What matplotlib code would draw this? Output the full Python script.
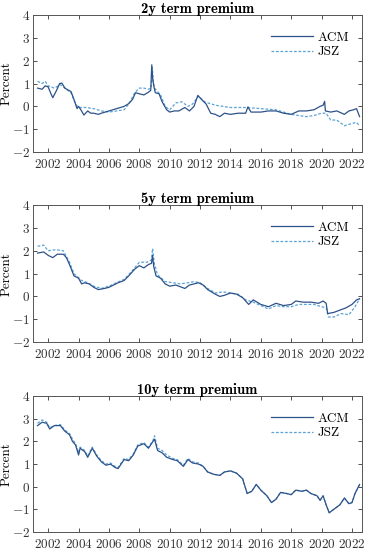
import matplotlib
matplotlib.use("Agg")
import matplotlib.pyplot as plt
import numpy as np

plt.rcParams['font.family'] = ['cmr10', 'DejaVu Serif']
plt.rcParams['mathtext.fontset'] = 'cm'
plt.rcParams['axes.formatter.use_mathtext'] = True
plt.rcParams['axes.unicode_minus'] = True

# ---------------- data ----------------
acm2_t = [2001.3, 2001.6, 2001.8, 2002.0, 2002.15, 2002.3, 2002.55, 2002.75, 2002.9, 2003.1, 2003.3, 2003.5,
          2003.7, 2003.9, 2004.0, 2004.15, 2004.35, 2004.6, 2004.8, 2005.0, 2005.3, 2005.5, 2006.0, 2006.5,
          2007.0, 2007.3, 2007.55, 2007.75, 2008.0, 2008.3, 2008.6, 2008.75, 2008.82, 2008.88, 2008.95,
          2009.05, 2009.3, 2009.5, 2009.8, 2010.0, 2010.3, 2010.6, 2011.0, 2011.3, 2011.6, 2011.85, 2012.1,
          2012.4, 2012.7, 2013.0, 2013.3, 2013.6, 2014.0, 2014.5, 2015.0, 2015.15, 2015.35, 2015.6, 2016.0,
          2016.5, 2017.0, 2017.5, 2018.0, 2018.5, 2019.0, 2019.5, 2019.9, 2020.1, 2020.2, 2020.25, 2020.6,
          2021.0, 2021.5, 2021.8, 2022.1, 2022.3, 2022.5]
acm2_v = [0.8, 0.75, 0.9, 0.85, 0.6, 0.38, 0.7, 1.0, 1.02, 0.8, 0.72, 0.65,
          0.3, -0.1, 0.0, -0.15, -0.38, -0.2, -0.3, -0.3, -0.35, -0.3, -0.2, -0.1,
          0.0, 0.12, 0.3, 0.6, 0.55, 0.5, 0.62, 0.7, 1.82, 1.2, 0.9,
          0.6, 0.55, 0.2, -0.15, -0.25, -0.2, -0.2, -0.05, -0.2, 0.0, 0.48, 0.3,
          0.1, -0.3, -0.35, -0.45, -0.3, -0.35, -0.3, -0.3, -0.02, -0.25, -0.25, -0.25,
          -0.2, -0.2, -0.3, -0.35, -0.2, -0.2, -0.15, 0.0, 0.05, 0.22, -0.2, -0.25,
          -0.2, -0.35, -0.2, -0.15, -0.1, -0.45]

jsz2_t = [2001.3, 2001.6, 2001.8, 2002.0, 2002.4, 2002.8, 2003.2, 2003.5, 2003.8, 2004.0, 2004.5, 2005.0,
          2005.5, 2006.0, 2006.5, 2007.0, 2007.3, 2007.7, 2008.0, 2008.3, 2008.6, 2008.78, 2008.85, 2008.92,
          2009.0, 2009.4, 2009.7, 2010.0, 2010.4, 2010.8, 2011.2, 2011.5, 2011.9, 2012.3, 2013.0, 2014.0,
          2015.0, 2016.0, 2017.0, 2018.0, 2019.0, 2019.5, 2020.0, 2020.3, 2020.6, 2021.0, 2021.5, 2022.0,
          2022.3, 2022.5]
jsz2_v = [1.1, 1.0, 1.1, 0.9, 0.8, 0.95, 0.75, 0.6, 0.1, -0.05, -0.05, -0.1,
          -0.2, -0.25, -0.2, -0.15, 0.1, 0.6, 0.8, 0.8, 0.75, 0.8, 1.7, 1.1,
          0.8, 0.5, 0.0, -0.15, 0.15, 0.2, 0.0, 0.1, 0.45, 0.2, 0.05, -0.05,
          -0.05, -0.1, -0.15, -0.35, -0.45, -0.4, -0.3, -0.3, -0.6, -0.6, -0.85, -0.75,
          -0.7, -0.85]

acm5_t = [2001.3, 2001.7, 2002.0, 2002.3, 2002.6, 2003.0, 2003.2, 2003.4, 2003.7, 2004.0, 2004.2, 2004.4,
          2004.7, 2005.0, 2005.3, 2005.7, 2006.0, 2006.3, 2006.6, 2007.0, 2007.3, 2007.7, 2008.0, 2008.3,
          2008.6, 2008.8, 2008.87, 2008.95, 2009.1, 2009.4, 2009.7, 2010.0, 2010.4, 2010.8, 2011.0, 2011.3,
          2011.6, 2011.9, 2012.2, 2012.5, 2013.0, 2013.3, 2013.6, 2014.0, 2014.4, 2014.8, 2015.2, 2015.5,
          2016.0, 2016.5, 2017.0, 2017.5, 2018.0, 2018.3, 2018.8, 2019.3, 2019.8, 2020.1, 2020.3, 2020.4,
          2020.8, 2021.2, 2021.6, 2022.0, 2022.3, 2022.5]
acm5_v = [1.9, 1.95, 1.8, 1.7, 1.85, 1.85, 1.7, 1.4, 0.9, 0.8, 0.55, 0.6,
          0.55, 0.4, 0.3, 0.35, 0.4, 0.5, 0.6, 0.7, 0.9, 1.2, 1.35, 1.25,
          1.4, 1.45, 1.8, 1.3, 0.9, 0.8, 0.55, 0.45, 0.5, 0.4, 0.35, 0.5,
          0.55, 0.6, 0.5, 0.3, 0.1, 0.0, 0.05, 0.15, 0.1, -0.05, -0.35, -0.15,
          -0.35, -0.45, -0.3, -0.4, -0.35, -0.2, -0.25, -0.25, -0.3, -0.2, -0.3, -0.75,
          -0.7, -0.6, -0.5, -0.35, -0.15, -0.1]

jsz5_t = [2001.3, 2001.7, 2002.0, 2002.5, 2003.0, 2003.4, 2003.7, 2004.2, 2004.6, 2005.0, 2005.5, 2006.0,
          2006.5, 2007.0, 2007.5, 2008.0, 2008.5, 2008.8, 2008.87, 2009.0, 2009.2, 2009.7, 2010.2, 2010.7,
          2011.2, 2011.6, 2012.0, 2012.5, 2013.0, 2013.5, 2014.0, 2014.5, 2015.0, 2015.5, 2016.0, 2016.5,
          2017.0, 2017.5, 2018.0, 2018.5, 2019.0, 2019.5, 2020.0, 2020.3, 2020.45, 2020.8, 2021.3, 2021.8,
          2022.2, 2022.5]
jsz5_v = [2.2, 2.25, 2.0, 2.05, 2.0, 1.5, 1.0, 0.7, 0.6, 0.45, 0.35, 0.45,
          0.6, 0.75, 1.1, 1.5, 1.5, 1.6, 2.1, 1.4, 0.95, 0.65, 0.6, 0.55,
          0.6, 0.65, 0.6, 0.35, 0.15, 0.2, 0.15, 0.1, -0.15, -0.25, -0.4, -0.55,
          -0.4, -0.45, -0.45, -0.35, -0.35, -0.35, -0.45, -0.5, -0.9, -0.9, -0.75, -0.8,
          -0.45, -0.1]

acm10_t = [2001.3, 2001.6, 2001.9, 2002.1, 2002.4, 2002.8, 2003.1, 2003.4, 2003.6, 2003.8, 2004.0, 2004.1,
           2004.4, 2004.6, 2004.9, 2005.2, 2005.5, 2005.8, 2006.1, 2006.4, 2006.6, 2006.8, 2007.0, 2007.3,
           2007.6, 2007.9, 2008.3, 2008.6, 2008.9, 2009.0, 2009.2, 2009.5, 2009.8, 2010.2, 2010.5, 2010.9,
           2011.2, 2011.5, 2011.9, 2012.2, 2012.5, 2012.9, 2013.3, 2013.6, 2014.0, 2014.4, 2014.8, 2015.1,
           2015.4, 2015.7, 2016.0, 2016.4, 2016.7, 2017.0, 2017.3, 2017.7, 2018.0, 2018.3, 2018.7, 2019.0,
           2019.3, 2019.7, 2019.9, 2020.1, 2020.3, 2020.5, 2020.8, 2021.2, 2021.5, 2021.8, 2022.0, 2022.2,
           2022.5]
acm10_v = [2.7, 2.85, 2.8, 2.55, 2.7, 2.7, 2.45, 2.3, 2.0, 1.85, 1.4, 1.7,
           1.55, 1.3, 1.7, 1.35, 1.1, 0.95, 1.0, 0.85, 0.8, 1.0, 1.2, 1.15,
           1.4, 1.8, 1.9, 1.7, 2.0, 2.1, 1.6, 1.5, 1.3, 1.2, 1.15, 0.9,
           1.2, 1.05, 1.0, 0.9, 0.65, 0.55, 0.5, 0.65, 0.7, 0.6, 0.35, -0.3,
           -0.2, 0.1, -0.15, -0.4, -0.7, -0.55, -0.25, -0.3, -0.35, -0.15, -0.2, -0.15,
           -0.3, -0.4, -0.6, -0.4, -0.8, -1.15, -1.0, -0.8, -0.5, -0.75, -0.7, -0.3,
           0.1]

jsz10_t = [2001.3, 2001.6, 2001.9, 2002.1, 2002.4, 2002.8, 2003.1, 2003.4, 2003.6, 2003.8, 2004.0, 2004.1,
           2004.4, 2004.6, 2004.9, 2005.2, 2005.5, 2005.8, 2006.1, 2006.4, 2006.6, 2006.8, 2007.0, 2007.3,
           2007.6, 2007.9, 2008.3, 2008.6, 2008.9, 2009.0, 2009.2, 2009.5, 2009.8, 2010.2, 2010.5, 2010.9,
           2011.2, 2011.5, 2011.9, 2012.2, 2012.5, 2012.9, 2013.3, 2013.6, 2014.0, 2014.4, 2014.8, 2015.1,
           2015.4, 2015.7, 2016.0, 2016.4, 2016.7, 2017.0, 2017.3, 2017.7, 2018.0, 2018.3, 2018.7, 2019.0,
           2019.3, 2019.7, 2019.9, 2020.1, 2020.3, 2020.5, 2020.8, 2021.2, 2021.5, 2021.8, 2022.0, 2022.2,
           2022.5]
jsz10_v = [2.8, 2.95, 2.85, 2.6, 2.7, 2.75, 2.5, 2.35, 2.1, 1.9, 1.5, 1.75,
           1.6, 1.35, 1.75, 1.4, 1.15, 1.0, 1.05, 0.9, 0.85, 1.05, 1.25, 1.2,
           1.45, 1.85, 1.95, 1.75, 2.05, 2.25, 1.7, 1.6, 1.4, 1.25, 1.2, 0.95,
           1.25, 1.1, 1.05, 0.9, 0.65, 0.55, 0.5, 0.65, 0.7, 0.6, 0.35, -0.3,
           -0.2, 0.1, -0.15, -0.4, -0.7, -0.55, -0.25, -0.3, -0.35, -0.15, -0.2, -0.15,
           -0.3, -0.4, -0.6, -0.4, -0.8, -1.15, -1.0, -0.8, -0.5, -0.75, -0.7, -0.3,
           0.1]

titles = ["2y term premium", "5y term premium", "10y term premium"]
series = [(acm2_t, acm2_v, jsz2_t, jsz2_v),
          (acm5_t, acm5_v, jsz5_t, jsz5_v),
          (acm10_t, acm10_v, jsz10_t, jsz10_v)]
year_ticks = list(range(2002, 2023, 2))
y_ticks = [-2, -1, 0, 1, 2, 3, 4]

acm_color = "#2d5289"
jsz_color = "#5aa3d6"

fig = plt.figure(figsize=(3.68, 5.5), dpi=100)
boxes = [(0.0897, 0.7236, 0.894, 0.249),
         (0.0897, 0.378, 0.894, 0.249),
         (0.0897, 0.0327, 0.894, 0.247)]

for box, title, (at, av, jt, jv) in zip(boxes, titles, series):
    ax = fig.add_axes(box)
    ax.plot(at, av, color=acm_color, lw=0.9, label="ACM", zorder=3)
    ax.plot(jt, jv, color=jsz_color, lw=0.9, ls=(0, (2.2, 1.4)), label="JSZ", zorder=2)
    ax.set_xlim(2001.0, 2022.66)
    ax.set_ylim(-2, 4)
    ax.set_xticks(year_ticks)
    ax.set_yticks(y_ticks)
    ax.tick_params(direction='in', top=True, right=True, length=3, width=0.6,
                   labelsize=9.5, colors='#333333', pad=2)
    ax.tick_params(axis='x', pad=4)
    for s in ax.spines.values():
        s.set_linewidth(0.7)
        s.set_color('#555555')
    ax.set_title(title, fontfamily='cmb10', fontsize=10.5, pad=1.5)
    ax.set_ylabel("Percent", fontsize=9.5)
    ax.yaxis.set_label_coords(-0.062, 0.5)
    leg = ax.legend(loc='upper right', frameon=False, fontsize=9.5, handlelength=3.2,
                    handletextpad=0.3, borderaxespad=0.6, labelspacing=0.15,
                    bbox_to_anchor=(1.0, 0.975))

fig.savefig("out.png", dpi=100)
